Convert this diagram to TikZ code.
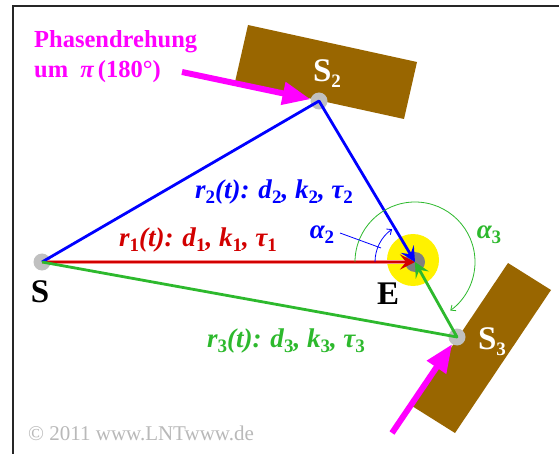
\documentclass[tikz,border=0pt]{standalone}
\usepackage{fontspec}
\setmainfont{Liberation Serif}
\usetikzlibrary{arrows.meta}
\definecolor{mygreen}{RGB}{45,185,45}
\definecolor{myred}{RGB}{210,0,0}
\definecolor{mypink}{RGB}{245,140,140}
\definecolor{mymag}{RGB}{255,0,255}
\definecolor{mybrown}{RGB}{153,102,0}
\definecolor{dotgray}{RGB}{192,192,192}
\definecolor{egray}{RGB}{128,128,128}
\definecolor{copygray}{RGB}{185,185,185}
\newcommand{\sbs}[1]{\raisebox{-0.4ex}{\fontsize{19}{19}\selectfont\upshape #1}}
\newcommand{\lbl}{\fontsize{27}{29}\selectfont\bfseries\itshape}
\newcommand{\bigsym}{\fontsize{33}{35}\selectfont\bfseries}
\begin{document}
\begin{tikzpicture}[x=1pt,y=-1pt,
  pt/.style={circle, fill=dotgray, minimum size=17pt, inner sep=0pt},
  ray/.style={line width=2.8pt, line join=round, -{Stealth[length=15pt,width=15pt,inset=6pt]}},
  angarc/.style={line width=0.8pt, -{Straight Barb[length=4pt,width=7pt]}},
  push/.style={mymag, line width=6pt, -{Triangle[length=28pt,width=22pt]}},
  plate/.style={fill=mybrown},
  txt/.style={inner sep=0pt}]
\useasboundingbox (0,0) rectangle (559,454);
\fill[white] (0,0) rectangle (559,454);
% frame
\draw[line width=1.8pt, black!85] (13,454) -- (13,6) -- (559,6);
% plates
\fill[plate] (248,25) -- (417,62) -- (404,119) -- (235,82) -- cycle;
\fill[plate] (508,263) -- (551,290) -- (455,433) -- (412,406) -- cycle;
% points
\node[pt] (S) at (42,262) {};
\node[pt] (S2) at (319,101) {};
\node[pt] (S3) at (457,337) {};
\coordinate (P2a) at (182,72);
\coordinate (P3a) at (392,433);
\draw[push] (P2a) -- (S2);
\draw[push] (P3a) -- (S3);
\fill[yellow] (413,260) circle[radius=26pt];
\node[circle, fill=egray, minimum size=20pt, inner sep=0pt] (E) at (415,262) {};
% rays
\draw[mypink, line width=4.6pt, shorten >=10pt] (S.center) -- (E.center);
\draw[myred, ray] (S.center) -- (E.center);
\draw[blue, ray] (S.center) -- (S2.center) -- (E.center);
\draw[mygreen, ray] (S.center) -- (S3.center) -- (E.center);
% angles
\draw[blue, angarc] (375,262) arc[start angle=180, end angle=235, radius=40];
\draw[mygreen, angarc] (355,262) arc[start angle=180, end angle=414, radius=60];
\coordinate (A2p) at (340,233);
\coordinate (A2q) at (381,248);
\draw[blue, line width=0.8pt] (A2p) -- (A2q);
% labels
\node[txt, myred] (L1) at (198,240) {\lbl r\sbs{1}(t): d\sbs{1}, k\sbs{1}, τ\sbs{1}};
\node[txt, blue] (L2) at (274,192) {\lbl r\sbs{2}(t): d\sbs{2}, k\sbs{2}, τ\sbs{2}};
\node[txt, mygreen] (L3) at (286,341) {\lbl r\sbs{3}(t): d\sbs{3}, k\sbs{3}, τ\sbs{3}};
\node[txt, blue] (LA2) at (322,235) {\lbl α\sbs{2}};
\node[txt, mygreen] (LA3) at (489,235) {\lbl α\sbs{3}};
\node[txt] (LS) at (40,292) {\bigsym S};
\node[txt] (LE) at (388,294) {\bigsym E};
\node[txt, white] (LS2) at (327,74) {\bigsym S\sbs{\bfseries 2}};
\node[txt, white] (LS3) at (492,342) {\bigsym S\sbs{\bfseries 3}};
\node[txt, mymag, anchor=base west] (PH1) at (34,48) {\fontsize{24.5}{26}\selectfont\bfseries Phasendrehung};
\node[txt, mymag, anchor=base west] (PH2) at (34,78) {\fontsize{24.5}{26}\selectfont\bfseries um~~{\itshape π}\,(180°)};
\node[txt, copygray, anchor=base west] (C) at (28,440) {\fontsize{21}{23}\selectfont © 2011 www.LNTwww.de};
\end{tikzpicture}
\end{document}
